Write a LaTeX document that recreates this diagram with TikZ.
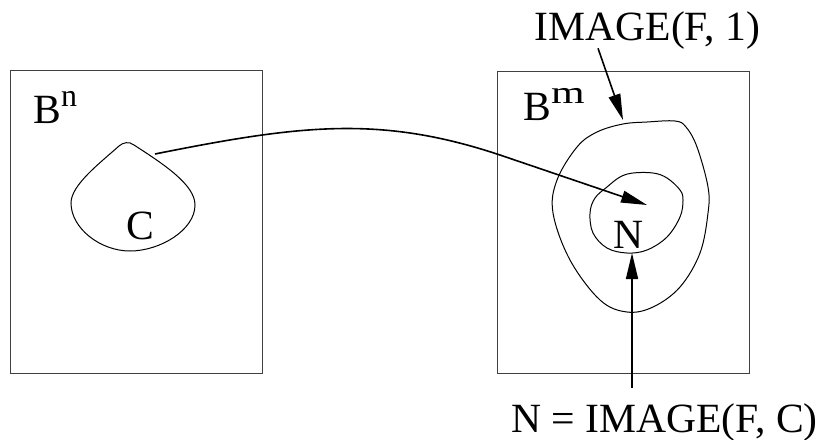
\documentclass[tikz,border=0pt]{standalone}
\usepackage{fontspec}
\setmainfont{Liberation Serif}
\usetikzlibrary{arrows.meta, calc, positioning}

\begin{document}
\begin{tikzpicture}[
    x=0.5pt, y=-0.5pt,
    ball/.style={draw=black!75, line width=0.5pt},
    contour/.style={draw, line width=0.5pt},
    lbl/.style={inner sep=0pt, anchor=base, font=\fontsize{20.8}{24}\selectfont},
    arr/.style={draw, line width=0.8pt, -{Triangle[length=13pt, width=6pt]}}
]
    \useasboundingbox (0,0) rectangle (817,439);
    % the two balls
    \draw[ball] (10,70) rectangle (262,373);
    \draw[ball] (497,71) rectangle (749,373);
    \node[lbl, anchor=base west] (bn) at (33,123) {B\raisebox{8.5pt}{\fontsize{16}{18}\selectfont n}};
    \node[lbl, anchor=base west] (bm) at (523,120) {B\raisebox{8.5pt}{\fontsize{16}{18}\selectfont\scalebox{1.35}[1]{m}}};
    % the set C in the source ball
    \draw[contour] (119,146) .. controls (123,142.5) and (129,141) .. (134,145)
        .. controls (165,165) and (195,185) .. (195,205)
        .. controls (195,230) and (160,251) .. (130,251)
        .. controls (100,251) and (71,228) .. (71,203)
        .. controls (71,185) and (100,163) .. (119,146);
    \node[lbl] (clbl) at (140,239) {C};
    % IMAGE(F, 1) and N in the target ball
    \draw[contour] plot[smooth cycle, tension=0.6] coordinates {
        (623,124) (647,122) (675,121) (686,127) (697,147) (708,187) (708,213)
        (700,253) (680,287) (653,307) (627,312) (600,300) (570,260) (553,213)
        (557,180) (577,147) (597,132)};
    \draw[contour] plot[smooth cycle, tension=0.6] coordinates {
        (633,173) (653,173) (667,178) (680,190) (683,200) (680,217) (667,237)
        (647,250) (627,253) (607,248) (593,233) (590,213) (595,198) (607,187)
        (620,177)};
    \node[lbl] (nlbl) at (629,248) {N};
    % labels outside
    \node[lbl] (imgone) at (647.5,40) {IMAGE(F, 1)};
    \node[lbl] (nimg) at (664.5,432) {N = IMAGE(F, C)};
    % connector ends
    \coordinate (cedge) at (155,154);
    \coordinate (ncentre) at (647,205);
    \coordinate (outtop) at (623,120);
    \coordinate (inbottom) at (632,253);
    % arrows
    \draw[arr] (cedge) .. controls (300,125) and (380,115) .. (500,155) -- (ncentre);
    \draw[arr] ($(imgone.south)+(-49.5,-1)$) -- (outtop);
    \draw[arr] ($(nimg.north)+(-32.5,-15)$) -- (inbottom);
\end{tikzpicture}
\end{document}
